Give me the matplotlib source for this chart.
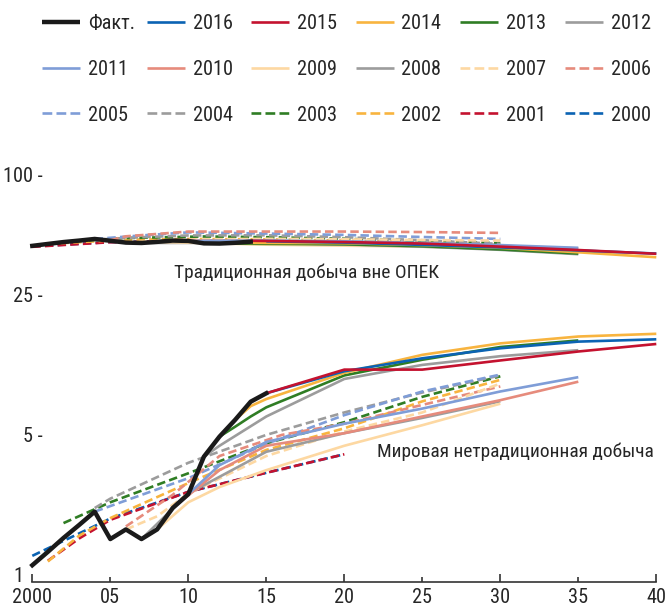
import matplotlib
matplotlib.use("Agg")
import matplotlib.pyplot as plt
from matplotlib.lines import Line2D
import matplotlib.transforms as mtransforms
from matplotlib import font_manager
from matplotlib.textpath import TextPath

# pick a narrow font if present (prefer Arial-Narrow-like faces)
prefs = ['liberation sans narrow', 'arial narrow', 'roboto condensed', 'open sans condensed',
         'noto sans condensed', 'dejavu sans condensed', 'condensed', 'narrow']
best, best_rank = None, 99
for f in font_manager.fontManager.ttflist:
    n = (f.fname + ' ' + f.name).lower().replace('-', ' ').replace('_', ' ')
    if any(b in n for b in ('bold', 'italic', 'oblique', 'light', 'thin', 'black', 'medium', 'semi')):
        continue
    for rank, p in enumerate(prefs):
        if p in n or p.replace(' ', '') in n.replace(' ', ''):
            if rank < best_rank:
                best, best_rank = f, rank
            break

if best is not None:
    base = font_manager.FontProperties(fname=best.fname)
else:
    base = font_manager.FontProperties(family=['Liberation Sans', 'DejaVu Sans'])

# size so that "2016" is ~38 px wide, as in the reference
p100 = base.copy()
p100.set_size(100)
w100 = TextPath((0, 0), '2016', prop=p100).get_extents().width
FS = max(10.5, min(16, 100 * (38 * 72 / 100) / w100))
PROP = base.copy()
PROP.set_size(FS)
FP = dict(fontproperties=PROP)
PROP_NOTE = base.copy()
PROP_NOTE.set_size(FS * 0.96)

# ---------------- Data ----------------
fact_years = list(range(2000, 2016))
fact_unconv = [1.14, 1.33, 1.56, 1.81, 2.11, 1.54, 1.72, 1.54, 1.72, 2.2, 2.58, 3.97, 5.0, 6.06, 7.47, 8.23]
fact_trad_years = list(range(2000, 2015))
fact_trad = [44.8, 45.8, 46.8, 47.6, 48.5, 47.5, 46.5, 46.3, 46.9, 47.6, 47.4, 46.1, 46.0, 46.4, 47.0]

# Unconventional (lower bundle) forecasts
u2016_x = [2015, 2020, 2025, 2030, 2035, 2040]
u2016_y = [8.23, 10.6, 12.3, 13.8, 14.9, 15.3]
u2015_x = [2014, 2015, 2020, 2025, 2030, 2035, 2040]
u2015_y = [7.47, 8.23, 10.8, 10.8, 12.0, 13.3, 14.5]
u2014_x = [2013, 2014, 2015, 2020, 2025, 2030, 2035, 2040]
u2014_y = [6.06, 7.1, 7.7, 10.4, 12.8, 14.6, 15.8, 16.3]
u2013_x = [2012, 2013, 2014, 2015, 2020, 2025, 2030, 2035]
u2013_y = [5.0, 5.6, 6.3, 7.0, 10.1, 12.1, 14.0, 15.1]
u2012_x = [2011, 2012, 2015, 2020, 2025, 2030, 2035]
u2012_y = [3.97, 4.5, 6.3, 9.7, 11.4, 12.6, 13.5]
u2011_x = [2010, 2012, 2015, 2020, 2025, 2030, 2035]
u2011_y = [2.58, 3.6, 4.7, 5.8, 6.9, 8.4, 9.9]
u2010_x = [2009, 2012, 2015, 2020, 2025, 2030, 2035]
u2010_y = [2.2, 3.4, 4.5, 5.2, 6.3, 7.6, 9.4]
u2009_x = [2008, 2010, 2012, 2015, 2020, 2025, 2030]
u2009_y = [1.72, 2.35, 2.8, 3.4, 4.5, 5.7, 7.3]
u2008_x = [2007, 2010, 2015, 2020, 2025, 2030]
u2008_y = [1.54, 2.6, 4.2, 5.2, 6.2, 7.5]
u2007_x = [2006, 2008, 2010, 2015, 2020, 2025, 2030]
u2007_y = [1.72, 2.0, 2.6, 4.0, 5.3, 6.6, 9.2]
u2006_x = [2006, 2009, 2012, 2016, 2020, 2025, 2030]
u2006_y = [1.78, 2.56, 4.0, 5.1, 5.8, 7.2, 8.9]
u2005_x = [2004, 2005, 2010, 2015, 2020, 2025, 2030]
u2005_y = [2.11, 2.25, 3.1, 4.6, 6.4, 8.4, 10.2]
u2004_x = [2004, 2005, 2010, 2015, 2020, 2025, 2030]
u2004_y = [2.2, 2.45, 3.7, 5.1, 6.6, 8.3, 10.1]
u2003_x = [2002, 2005, 2010, 2015, 2020, 2025, 2030]
u2003_y = [1.85, 2.35, 3.28, 4.63, 5.9, 7.9, 10.0]
u2002_x = [2001, 2003, 2005, 2010, 2015, 2020, 2025, 2030]
u2002_y = [1.19, 1.6, 1.96, 2.93, 4.29, 5.5, 7.5, 9.6]
u2001_x = [2001, 2003, 2005, 2010, 2015, 2020]
u2001_y = [1.2, 1.55, 1.92, 2.65, 3.3, 4.08]
u2000_x = [2000, 2005, 2010, 2015, 2020]
u2000_y = [1.27, 1.95, 2.65, 3.3, 4.08]

# Traditional non-OPEC (upper bundle) forecasts
t2016_x = [2015, 2020, 2025, 2030, 2035, 2040]
t2016_y = [47.2, 46.5, 45.3, 44.0, 42.5, 41.0]
t2015_x = [2014, 2020, 2025, 2030, 2035, 2040]
t2015_y = [47.5, 46.8, 46.0, 44.4, 42.7, 40.9]
t2014_x = [2013, 2020, 2025, 2030, 2035, 2040]
t2014_y = [46.4, 46.2, 45.2, 43.8, 41.6, 39.3]
t2013_x = [2012, 2020, 2025, 2030, 2035]
t2013_y = [46.0, 45.6, 44.6, 43.0, 41.0]
t2012_x = [2011, 2015, 2020, 2025, 2030, 2035]
t2012_y = [46.1, 46.4, 45.5, 44.4, 42.8, 40.7]
t2011_x = [2010, 2015, 2020, 2025, 2030, 2035]
t2011_y = [47.4, 47.6, 47.2, 46.3, 45.2, 43.8]
t2010_x = [2009, 2015, 2020, 2025, 2030, 2035]
t2010_y = [47.6, 47.4, 46.6, 45.8, 44.8, 43.5]
t2009_x = [2008, 2015, 2020, 2025, 2030]
t2009_y = [46.9, 45.4, 44.9, 44.3, 43.6]
t2008_x = [2007, 2015, 2020, 2025, 2030]
t2008_y = [46.3, 46.4, 46.0, 45.4, 44.6]
t2007_x = [2006, 2010, 2015, 2020, 2025, 2030]
t2007_y = [46.5, 48.2, 48.6, 48.3, 47.9, 47.6]
t2006_x = [2005, 2006, 2010, 2020, 2025, 2030]
t2006_y = [47.8, 50.0, 52.8, 52.8, 52.5, 52.0]
t2005_x = [2004, 2007, 2010, 2015, 2020, 2025, 2030]
t2005_y = [48.5, 50.5, 52.3, 51.6, 50.8, 49.6, 48.5]
t2004_x = [2003, 2007, 2010, 2015, 2020, 2025, 2030]
t2004_y = [47.6, 49.5, 50.5, 50.6, 49.5, 47.8, 45.8]
t2003_x = [2002, 2006, 2011, 2015, 2020, 2025, 2030]
t2003_y = [46.8, 49.0, 49.9, 49.5, 48.6, 47.4, 46.2]
t2002_x = [2001, 2006, 2010, 2015, 2020, 2025, 2030]
t2002_y = [45.8, 48.1, 48.5, 48.3, 47.6, 46.6, 45.3]
t2001_x = [2000, 2005, 2010, 2015, 2020]
t2001_y = [44.3, 46.7, 47.3, 47.3, 46.9]
t2000_x = [2000, 2005, 2010, 2015, 2020]
t2000_y = [44.5, 46.8, 47.4, 47.4, 47.0]

labels = ['Факт.', '2016', '2015', '2014', '2013', '2012',
          '2011', '2010', '2009', '2008', '2007', '2006',
          '2005', '2004', '2003', '2002', '2001', '2000']

x_ticks_major = [2000, 2010, 2020, 2030, 2040]
x_labels_major = ['2000', '10', '20', '30', '40']
x_ticks_minor = [2005, 2015, 2025, 2035]
x_labels_minor = ['05', '15', '25', '35']
y_ticks = [1, 5, 25, 100]
y_labels = ['1', '5 -', '25 -', '100 -']

# ---------------- Styles ----------------
BLUE = '#0b63b3'
RED = '#c4122f'
ORANGE = '#f8b43f'
GREEN = '#2f7d24'
GREY = '#9c9c9c'
LBLUE = '#7f9dd7'
SALMON = '#e68b7c'
PEACH = '#fdd8a2'
TXT = '#262626'

LW = 1.9
DASH = (0, (3.2, 1.6))

styles = {
    '2016': (BLUE, '-'), '2015': (RED, '-'), '2014': (ORANGE, '-'),
    '2013': (GREEN, '-'), '2012': (GREY, '-'), '2011': (LBLUE, '-'),
    '2010': (SALMON, '-'), '2009': (PEACH, '-'), '2008': (GREY, '-'),
    '2007': (PEACH, DASH), '2006': (SALMON, DASH), '2005': (LBLUE, DASH),
    '2004': (GREY, DASH), '2003': (GREEN, DASH), '2002': (ORANGE, DASH),
    '2001': (RED, DASH), '2000': (BLUE, DASH),
}

series = {
    '2016': (u2016_x, u2016_y, t2016_x, t2016_y),
    '2015': (u2015_x, u2015_y, t2015_x, t2015_y),
    '2014': (u2014_x, u2014_y, t2014_x, t2014_y),
    '2013': (u2013_x, u2013_y, t2013_x, t2013_y),
    '2012': (u2012_x, u2012_y, t2012_x, t2012_y),
    '2011': (u2011_x, u2011_y, t2011_x, t2011_y),
    '2010': (u2010_x, u2010_y, t2010_x, t2010_y),
    '2009': (u2009_x, u2009_y, t2009_x, t2009_y),
    '2008': (u2008_x, u2008_y, t2008_x, t2008_y),
    '2007': (u2007_x, u2007_y, t2007_x, t2007_y),
    '2006': (u2006_x, u2006_y, t2006_x, t2006_y),
    '2005': (u2005_x, u2005_y, t2005_x, t2005_y),
    '2004': (u2004_x, u2004_y, t2004_x, t2004_y),
    '2003': (u2003_x, u2003_y, t2003_x, t2003_y),
    '2002': (u2002_x, u2002_y, t2002_x, t2002_y),
    '2001': (u2001_x, u2001_y, t2001_x, t2001_y),
    '2000': (u2000_x, u2000_y, t2000_x, t2000_y),
}

# ---------------- Figure ----------------
W, H = 667, 610
fig = plt.figure(figsize=(W / 100, H / 100), dpi=100)
ax = fig.add_axes([32.3 / W, 28 / H, 624 / W, 406 / H])
ax.set_yscale('log')
ax.set_xlim(2000, 2040)
ax.set_ylim(0.94, 100)

draw_order = ['2000', '2001', '2002', '2003', '2004', '2005', '2006', '2007',
              '2008', '2009', '2010', '2011', '2012', '2013', '2014', '2016', '2015']
for i, key in enumerate(draw_order):
    color, ls = styles[key]
    ux, uy, tx, ty = series[key]
    for xs, ys in ((ux, uy), (tx, ty)):
        ax.plot(xs, ys, color=color, ls=ls, lw=LW, solid_capstyle='butt',
                dash_capstyle='butt', zorder=2 + i * 0.01, clip_on=False)

ax.plot(fact_years, fact_unconv, color='#1a1a1a', lw=3.2, zorder=5, clip_on=False)
ax.plot(fact_trad_years, fact_trad, color='#1a1a1a', lw=3.2, zorder=5, clip_on=False)

# Axes styling
for s in ['top', 'right', 'left']:
    ax.spines[s].set_visible(False)
ax.spines['bottom'].set_color('#333333')
ax.spines['bottom'].set_linewidth(1.2)

ax.set_xticks(x_ticks_major)
ax.set_xticks(x_ticks_minor, minor=True)
ax.set_xticklabels(x_labels_major, **FP)
ax.set_xticklabels(x_labels_minor, minor=True, **FP)
ax.tick_params(axis='x', which='major', direction='in', length=6, width=1.2,
               color='#333333', pad=4, labelcolor=TXT)
ax.tick_params(axis='x', which='minor', direction='in', length=3.5, width=1.2,
               color='#333333', pad=4, labelcolor=TXT)
ax.set_yticks([])
ax.yaxis.set_minor_locator(matplotlib.ticker.NullLocator())

ytrans = mtransforms.blended_transform_factory(ax.transAxes, ax.transData)
for v, lab in zip(y_ticks, y_labels):
    xpos = 0.017 if lab.endswith('-') else -0.014
    ax.text(xpos, v, lab, transform=ytrans, ha='right', va='center',
            color=TXT, clip_on=False, **FP)

ax.text(2009.1, 33.0, 'Традиционная добыча вне ОПЕК', color=TXT,
        ha='left', va='center', fontproperties=PROP_NOTE)
ax.text(2022.1, 4.2, 'Мировая нетрадиционная добыча', color=TXT,
        ha='left', va='center', fontproperties=PROP_NOTE)

# Legend (row-major, 6 columns x 3 rows)
handles = [Line2D([], [], color='#1a1a1a', lw=3.2)]
for lab in labels[1:]:
    c, ls = styles[lab]
    handles.append(Line2D([], [], color=c, ls=ls, lw=LW, dash_capstyle='butt'))

ncol, nrow = 6, 3
for idx, (h, lab) in enumerate(zip(handles, labels)):
    r, c = divmod(idx, ncol)
    x0 = 42 + 104.5 * c
    yc = H - (21.7 + 45.8 * r)
    ln = Line2D([x0 / W, (x0 + 38) / W], [yc / H, yc / H], transform=fig.transFigure,
                color=h.get_color(), ls=h.get_linestyle(), lw=h.get_linewidth(),
                solid_capstyle='butt', dash_capstyle='butt')
    fig.add_artist(ln)
    fig.text((x0 + 46) / W, yc / H, lab, ha='left', va='center_baseline',
             color=TXT, **FP)

fig.savefig('out.png', dpi=100)
